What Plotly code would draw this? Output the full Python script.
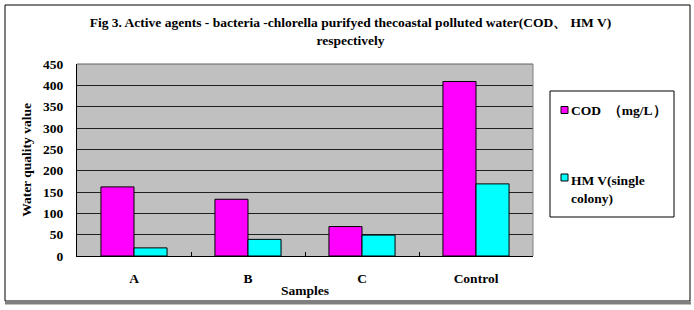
import plotly.graph_objects as go

categories = ["A", "B", "C", "Control"]
cod_values = [162, 133, 69, 409]
hmv_values = [19, 39, 49, 169]
series_names = ["COD  （mg/L）", "HM V(single<br>colony)"]
series_colors = ["#FF00FF", "#00FFFF"]

FONT = "Liberation Serif"
FS = 13.5
L, R, T, B = 77, 161, 64, 54
W, H = 694, 310
pw, ph = W - L - R, H - T - B

def px(x):
    return (x - L) / pw

def py(y):
    return (H - B - y) / ph

fig = go.Figure()
for vals, name, col in zip([cod_values, hmv_values], series_names, series_colors):
    fig.add_trace(go.Bar(x=categories, y=vals, name=name,
                         marker=dict(color=col, line=dict(color="black", width=1)),
                         showlegend=False))

fig.update_layout(
    width=W, height=H,
    margin=dict(l=L, r=R, t=T, b=B),
    paper_bgcolor="white",
    plot_bgcolor="#C0C0C0",
    barmode="group",
    bargap=0.42,
    bargroupgap=0,
    font=dict(family=FONT, size=FS, color="black"),
    title=dict(
        text="<b>Fig 3. Active agents - bacteria -chlorella purifyed thecoastal polluted water(COD、 HM V)<br>respectively</b>",
        x=0.505, xref="container", xanchor="center", y=1 - 27 / H, yanchor="top",
        font=dict(family=FONT, size=FS),
    ),
)

fig.update_xaxes(
    showline=True, linecolor="black", linewidth=1, mirror=False,
    ticks="inside", tickson="boundaries", ticklen=4, tickcolor="black",
    tickfont=dict(family=FONT, size=FS),
    ticklabelstandoff=10,
    tickprefix="<b>", ticksuffix="</b>",
    title=dict(text="<b>Samples</b>", font=dict(family=FONT, size=FS), standoff=0),
    showgrid=False, automargin=False,
)
fig.update_yaxes(
    range=[0, 450], dtick=50, tickmode="linear",
    showline=True, linecolor="black", linewidth=1,
    showgrid=True, gridcolor="#202020", gridwidth=1,
    zeroline=False,
    tickfont=dict(family=FONT, size=FS),
    ticklabelstandoff=10,
    tickprefix="<b>", ticksuffix="</b>",
    title=dict(text="<b>Water quality value</b>", font=dict(family=FONT, size=FS), standoff=8),
    automargin=False,
)

# plot frame top/right
fig.add_shape(type="line", xref="paper", yref="paper", x0=0, x1=1, y0=1, y1=1,
              line=dict(color="#606060", width=1))
fig.add_shape(type="line", xref="paper", yref="paper", x0=1, x1=1, y0=0, y1=1,
              line=dict(color="#808080", width=1))
# outer border
fig.add_shape(type="rect", xref="paper", yref="paper",
              x0=px(5), x1=px(690), y0=py(301), y1=py(5),
              line=dict(color="black", width=1), layer="below")
fig.add_shape(type="line", xref="paper", yref="paper",
              x0=px(5), x1=px(691), y0=py(303), y1=py(303),
              line=dict(color="#808080", width=3))

# legend box (drawn manually)
fig.add_shape(type="rect", xref="paper", yref="paper",
              x0=px(550), x1=px(674), y0=py(217), y1=py(91),
              line=dict(color="black", width=1), fillcolor="white")
legend_rows = [(110, 110), (177.5, 171)]
for (sq_y, txt_y), name, col in zip(legend_rows, series_names, series_colors):
    fig.add_shape(type="rect", xref="paper", yref="paper",
                  x0=px(561), x1=px(568), y0=py(sq_y + 3.5), y1=py(sq_y - 3.5),
                  line=dict(color="black", width=1), fillcolor=col)
    is_multi = "<br>" in name
    fig.add_annotation(
        xref="paper", yref="paper", x=px(569), y=py(txt_y),
        xanchor="left", yanchor="top" if is_multi else "middle",
        align="left", showarrow=False,
        text="<b>" + name + "</b>",
        font=dict(family=FONT, size=FS),
    )

fig.write_html("out.html", config={"displayModeBar": False},
               post_script="document.body.style.margin='0';")
